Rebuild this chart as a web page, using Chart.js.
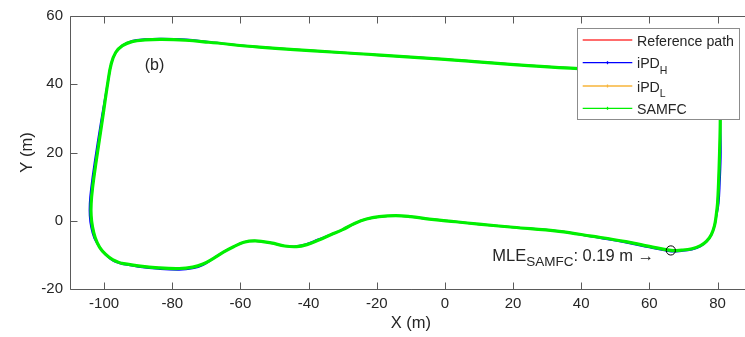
<!DOCTYPE html>
<html><head><meta charset="utf-8">
<script src="https://cdn.jsdelivr.net/npm/chart.js@4.4.0/dist/chart.umd.min.js"></script>
<style>
html,body{margin:0;padding:0;overflow:hidden;background:#fff;width:745px;height:337px}
#wrap{width:760px;height:337px}
</style>
</head><body><div id="wrap"><canvas id="c" width="760" height="337"></canvas></div>
<script>
// ---- data ----
const refX = [-95.1,-97.5,-99.6,-101.3,-102.6,-103.4,-103.8,-103.8,-103.4,-102.4,-100.5,-98.9,-97.9,-96.6,-94.6,-91.8,-88.0,-83.0,-76.0,-69.2,-54.5,-20.0,0.0,33.5,60.0,72.0,77.5,80.0,80.7,80.8,80.6,80.3,80.0,79.6,79.1,78.2,76.8,75.0,72.5,69.5,66.3,60.0,53.1,43.0,33.5,20.0,10.0,3.2,-4.6,-10.0,-14.4,-19.3,-23.0,-26.5,-30.0,-33.5,-37.0,-40.5,-43.5,-47.0,-51.0,-55.5,-59.0,-62.0,-65.0,-68.0,-71.0,-74.0,-78.0,-84.0,-90.0,-95.1];
const refY = [-12.4,-11.4,-9.8,-7.8,-5.0,-1.8,1.5,5.0,9.5,16.9,29.6,40.5,46.0,49.3,51.3,52.5,53.0,53.15,52.9,52.3,50.9,48.6,47.3,44.9,43.9,43.3,41.8,38.5,33.0,29.0,20.0,11.0,5.0,1.5,-1.5,-4.0,-6.0,-7.3,-8.2,-8.6,-8.7,-7.5,-6.1,-4.5,-3.1,-1.9,-1.0,-0.3,0.5,1.2,1.5,1.2,0.5,-0.8,-2.6,-4.1,-5.65,-7.0,-7.6,-7.4,-6.5,-5.9,-6.3,-7.6,-9.2,-11.1,-12.7,-13.6,-14.0,-13.8,-13.2,-12.4];

const hX = [-95.1,-97.5,-99.6,-101.3,-102.9,-103.8,-104.2,-104.2,-103.8,-102.8,-100.8,-98.9,-97.9,-96.6,-94.6,-91.8,-88.0,-83.0,-76.0,-69.2,-54.5,-20.0,0.0,33.5,60.0,72.0,77.5,80.0,80.7,80.8,80.95,80.65,80.3,79.7,79.1,78.2,76.8,75.0,72.5,69.5,66.3,60.0,53.1,43.0,33.5,20.0,10.0,3.2,-4.6,-10.0,-14.4,-19.3,-23.0,-26.5,-30.0,-33.5,-37.2,-40.7,-43.5,-47.0,-51.0,-55.5,-59.0,-62.0,-65.0,-68.0,-71.0,-74.0,-78.0,-84.0,-90.0,-95.1];
const hY = [-12.6,-11.6,-9.9,-7.8,-5.0,-1.8,1.5,5.0,9.5,16.9,29.6,40.5,46.0,49.3,51.4,52.7,53.2,53.35,53.1,52.4,50.9,48.6,47.3,44.9,43.9,43.3,41.8,38.5,33.0,29.0,20.0,11.0,5.0,1.5,-1.5,-4.1,-6.1,-7.5,-8.4,-8.85,-9.0,-7.8,-6.35,-4.65,-3.1,-1.9,-1.0,-0.3,0.5,1.2,1.5,1.2,0.5,-0.8,-2.6,-4.1,-5.5,-6.85,-7.45,-7.4,-6.5,-5.9,-6.3,-7.6,-9.2,-11.1,-13.0,-13.95,-14.35,-14.1,-13.45,-12.6];

const lX = [-95.1,-97.5,-99.6,-101.3,-102.6,-103.4,-103.8,-103.8,-103.4,-102.4,-100.5,-98.9,-97.9,-96.6,-94.6,-91.8,-88.0,-83.0,-76.0,-69.2,-54.5,-20.0,0.0,33.5,60.0,72.0,77.5,80.0,80.7,80.8,80.6,80.3,80.0,79.6,79.1,78.2,76.8,75.0,72.5,69.5,66.3,60.0,53.1,43.0,33.5,20.0,10.0,3.2,-4.6,-10.0,-14.4,-19.3,-23.0,-26.5,-30.0,-33.5,-37.0,-40.5,-43.5,-47.0,-51.0,-55.5,-59.0,-62.0,-65.0,-68.0,-71.0,-74.0,-78.0,-84.0,-90.0,-95.1];
const lY = [-12.4,-11.4,-9.8,-7.8,-5.0,-1.8,1.5,5.0,9.5,16.9,29.6,40.5,46.0,49.3,51.3,52.5,53.0,53.15,52.9,52.3,50.9,48.6,47.3,44.9,43.9,43.3,41.8,38.5,33.0,29.0,20.0,11.0,5.0,1.5,-1.5,-4.0,-6.0,-7.3,-8.2,-8.6,-8.7,-7.5,-6.1,-4.5,-3.1,-1.9,-1.0,-0.3,0.5,1.2,1.5,1.2,0.5,-0.8,-2.6,-4.1,-5.65,-7.0,-7.6,-7.4,-6.5,-5.9,-6.3,-7.6,-9.2,-11.1,-12.7,-13.6,-14.0,-13.8,-13.2,-12.4];

const sX = [-95.1,-97.5,-99.6,-101.3,-102.6,-103.4,-103.8,-103.8,-103.4,-102.4,-100.5,-98.9,-97.9,-96.6,-94.6,-91.8,-88.0,-83.0,-76.0,-69.2,-54.5,-20.0,0.0,33.5,60.0,72.0,77.5,80.0,80.7,80.8,80.6,80.3,80.0,79.6,79.1,78.2,76.8,75.0,72.5,69.5,66.3,60.0,53.1,43.0,33.5,20.0,10.0,3.2,-4.6,-10.0,-14.4,-19.3,-23.0,-26.5,-30.0,-33.5,-37.0,-40.5,-43.5,-47.0,-51.0,-55.5,-59.0,-62.0,-65.0,-68.0,-71.0,-74.0,-78.0,-84.0,-90.0,-95.1];
const sY = [-12.4,-11.4,-9.8,-7.8,-5.0,-1.8,1.5,5.0,9.5,16.9,29.6,40.5,46.0,49.3,51.3,52.5,53.0,53.15,52.9,52.3,50.9,48.6,47.3,44.9,43.9,43.3,41.8,38.5,33.0,29.0,20.0,11.0,5.0,1.5,-1.5,-4.0,-6.0,-7.3,-8.2,-8.6,-8.7,-7.5,-6.1,-4.5,-3.1,-1.9,-1.0,-0.3,0.5,1.2,1.5,1.2,0.5,-0.8,-2.6,-4.1,-5.65,-7.0,-7.6,-7.4,-6.5,-5.9,-6.3,-7.6,-9.2,-11.1,-12.7,-13.6,-14.0,-13.8,-13.2,-12.4];

const markX = [66.3];
const markY = [-8.7];

const xTicks = [-100,-80,-60,-40,-20,0,20,40,60,80];
const yTicks = [-20,0,20,40,60];

const legendNames = ['Reference path','iPD','iPD','SAMFC'];
const legendSubs  = ['','H','L',''];
const panelLabel = '(b)';
const mleMain = 'MLE', mleSub = 'SAMFC', mleRest = ': 0.19 m \u2192';

// ---- styles ----
const FAM = "'Liberation Sans', Arial, Helvetica, sans-serif";
const TXT = '#262626';
const colRef = '#ff3b3b', colH = '#0000ff', colL = '#f7b53a', colS = '#00f000';
const legendColors = [colRef, colH, colL, colS];

function pts(xs, ys){ return xs.map((v,i)=>({x:v, y:ys[i]})); }

const overlay = {
  id:'overlay',
  afterDatasetsDraw(chart){
    const {ctx, chartArea:a, scales:{x, y}} = chart;
    ctx.save();
    ctx.strokeStyle = '#5a5a5a'; ctx.lineWidth = 1;
    const L = Math.round(a.left)+0.5, T = Math.round(a.top)+0.5, B = Math.round(a.bottom)+0.5, R = a.right;
    ctx.beginPath();
    ctx.moveTo(R, T); ctx.lineTo(L, T); ctx.lineTo(L, B); ctx.lineTo(R, B);
    xTicks.forEach(v=>{ const px = Math.round(x.getPixelForValue(v))+0.5;
      ctx.moveTo(px, B); ctx.lineTo(px, B-7); ctx.moveTo(px, T); ctx.lineTo(px, T+7); });
    yTicks.forEach(v=>{ const py = Math.round(y.getPixelForValue(v))+0.5;
      ctx.moveTo(L, py); ctx.lineTo(L+7, py); });
    ctx.stroke();

    ctx.fillStyle = TXT;
    ctx.font = `16px ${FAM}`;
    ctx.textAlign = 'center'; ctx.textBaseline = 'middle';
    ctx.fillText(panelLabel, x.getPixelForValue(-85.2), y.getPixelForValue(45.6));

    ctx.textAlign = 'left'; ctx.textBaseline = 'alphabetic';
    let tx = x.getPixelForValue(13.9);
    const by = y.getPixelForValue(-11.7);
    ctx.font = `16.5px ${FAM}`; ctx.fillText(mleMain, tx, by); tx += ctx.measureText(mleMain).width;
    ctx.font = `13.5px ${FAM}`; ctx.fillText(mleSub, tx, by+5.7); tx += ctx.measureText(mleSub).width;
    ctx.font = `16.5px ${FAM}`; ctx.fillText(mleRest, tx, by);

    const lx0 = 577.5, ly0 = 28.5, lx1 = 739.5, ly1 = 119.5;
    ctx.fillStyle = '#ffffff';
    ctx.fillRect(lx0, ly0, lx1-lx0, ly1-ly0);
    ctx.strokeStyle = '#8c8c8c'; ctx.lineWidth = 1;
    ctx.strokeRect(lx0, ly0, lx1-lx0, ly1-ly0);
    const rows = [40, 62.7, 86, 108.3];
    legendNames.forEach((nm, i)=>{
      const cy = rows[i];
      ctx.strokeStyle = legendColors[i]; ctx.lineWidth = 1.3;
      ctx.beginPath(); ctx.moveTo(582.7, cy); ctx.lineTo(632.3, cy); ctx.stroke();
      if (i > 0) { ctx.beginPath(); ctx.moveTo(607.5, cy-1.5); ctx.lineTo(607.5, cy+1.5); ctx.stroke(); }
      ctx.fillStyle = TXT; ctx.textAlign = 'left'; ctx.textBaseline = 'alphabetic';
      ctx.font = `14.2px ${FAM}`;
      ctx.fillText(nm, 637, cy+5.7);
      if (legendSubs[i]) {
        const w = ctx.measureText(nm).width;
        ctx.font = `10.5px ${FAM}`;
        ctx.fillText(legendSubs[i], 637+w, cy+11.3);
      }
    });
    ctx.restore();
  }
};

new Chart(document.getElementById('c'), {
  type:'scatter',
  data:{datasets:[
    {label:'mark', data:pts(markX, markY), showLine:false, pointRadius:4.6, pointStyle:'circle',
     pointBorderColor:'#000', pointBorderWidth:1, pointBackgroundColor:'rgba(0,0,0,0)', order:0},
    {label:'SAMFC', data:pts(sX, sY), showLine:true, borderColor:colS, borderWidth:3.2, pointRadius:0, tension:0.4, fill:false, order:1},
    {label:'iPD_L', data:pts(lX, lY), showLine:true, borderColor:colL, borderWidth:2, pointRadius:0, tension:0.4, fill:false, order:2},
    {label:'iPD_H', data:pts(hX, hY), showLine:true, borderColor:colH, borderWidth:2, pointRadius:0, tension:0.4, fill:false, order:3},
    {label:'Reference path', data:pts(refX, refY), showLine:true, borderColor:colRef, borderWidth:1.5, pointRadius:0, tension:0.4, fill:false, order:4}
  ]},
  options:{
    responsive:false, animation:false, devicePixelRatio:1,
    layout:{padding:{left:0, right:8.4, top:16, bottom:0}},
    plugins:{legend:{display:false}, tooltip:{enabled:false}},
    scales:{
      x:{type:'linear', min:-110, max:90,
         afterBuildTicks:s=>{ s.ticks = xTicks.map(v=>({value:v})); },
         afterFit:s=>{ s.height = 48; },
         grid:{display:false, drawTicks:false}, border:{display:false},
         ticks:{padding:6, color:TXT, font:{family:FAM, size:15}, maxRotation:0, autoSkip:false},
         title:{display:true, text:'X (m)', color:TXT, font:{family:FAM, size:16.5}, padding:{top:0, bottom:4}}},
      y:{type:'linear', min:-20, max:60,
         afterBuildTicks:s=>{ s.ticks = yTicks.map(v=>({value:v})); },
         afterFit:s=>{ s.width = 70; },
         grid:{display:false, drawTicks:false}, border:{display:false},
         ticks:{padding:7, color:TXT, font:{family:FAM, size:15}, autoSkip:false},
         title:{display:true, text:'Y (m)', color:TXT, font:{family:FAM, size:16.5}, padding:{top:17.6, bottom:0}}}
    }
  },
  plugins:[overlay]
});
</script>
</body></html>
